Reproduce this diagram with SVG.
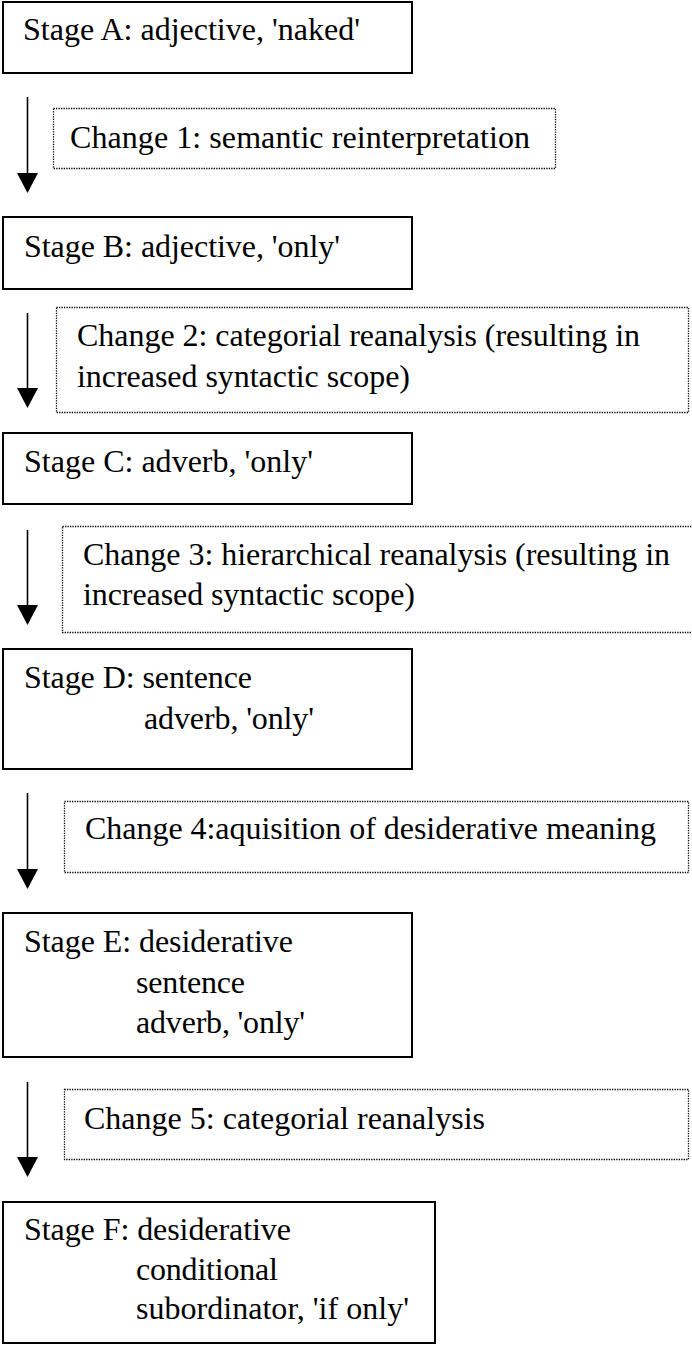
<svg xmlns="http://www.w3.org/2000/svg" width="692" height="1345" viewBox="0 0 692 1345">
<style>
.stage{fill:#fff;stroke:#000;stroke-width:2}
.change{fill:#fff;stroke:#000;stroke-width:1.3;stroke-dasharray:1.3 1.2}
.arrow{stroke:#000;stroke-width:1.6;fill:none}
</style>
<defs>
<marker id="ah" viewBox="0 0 20 21" refX="0" refY="10.5" markerWidth="20" markerHeight="21" markerUnits="userSpaceOnUse" orient="auto">
<path d="M0,0 L20,10.5 L0,21 z" fill="#000"/>
</marker>
</defs>
<rect width="692" height="1345" fill="#fff"/>
<g id="connectors">
<line class="arrow" x1="27.5" y1="97" x2="27.5" y2="173" marker-end="url(#ah)"/>
<line class="arrow" x1="27.5" y1="313" x2="27.5" y2="388" marker-end="url(#ah)"/>
<line class="arrow" x1="27.5" y1="530" x2="27.5" y2="605" marker-end="url(#ah)"/>
<line class="arrow" x1="27.5" y1="793" x2="27.5" y2="869" marker-end="url(#ah)"/>
<line class="arrow" x1="27.5" y1="1082" x2="27.5" y2="1157" marker-end="url(#ah)"/>
</g>
<g font-family="Liberation Serif, serif" font-size="32" fill="#000">
<g id="stageA">
<rect class="stage" x="3" y="2" width="409" height="71"/>
<text x="23" y="40" textLength="337">Stage A: adjective, 'naked'</text>
</g>
<g id="change1">
<rect class="change" x="53.5" y="108.5" width="502" height="60"/>
<text x="70" y="148" textLength="460">Change 1: semantic reinterpretation</text>
</g>
<g id="stageB">
<rect class="stage" x="3" y="217" width="409" height="72"/>
<text x="24" y="257" textLength="316">Stage B: adjective, 'only'</text>
</g>
<g id="change2">
<rect class="change" x="56.5" y="307.5" width="632" height="105"/>
<text x="77" y="346" textLength="563">Change 2: categorial reanalysis (resulting in</text>
<text x="77" y="387" textLength="333">increased syntactic scope)</text>
</g>
<g id="stageC">
<rect class="stage" x="3" y="433" width="409" height="71"/>
<text x="24" y="472" textLength="289">Stage C: adverb, 'only'</text>
</g>
<g id="change3">
<rect class="change" x="62.5" y="526.5" width="640" height="106"/>
<text x="83" y="565" textLength="587">Change 3: hierarchical reanalysis (resulting in</text>
<text x="83" y="605" textLength="332">increased syntactic scope)</text>
</g>
<g id="stageD">
<rect class="stage" x="3" y="649" width="409" height="120"/>
<text x="24" y="688" textLength="228">Stage D: sentence</text>
<text x="144" y="729" textLength="170">adverb, 'only'</text>
</g>
<g id="change4">
<rect class="change" x="64.5" y="801.5" width="624" height="71"/>
<text x="85" y="839" textLength="571">Change 4:aquisition of desiderative meaning</text>
</g>
<g id="stageE">
<rect class="stage" x="3" y="913" width="409" height="144"/>
<text x="24" y="952" textLength="269">Stage E: desiderative</text>
<text x="136" y="993" textLength="109">sentence</text>
<text x="136" y="1033" textLength="169">adverb, 'only'</text>
</g>
<g id="change5">
<rect class="change" x="64.5" y="1089.5" width="624" height="70"/>
<text x="84" y="1129" textLength="401">Change 5: categorial reanalysis</text>
</g>
<g id="stageF">
<rect class="stage" x="3" y="1202" width="432" height="141"/>
<text x="24" y="1240" textLength="267">Stage F: desiderative</text>
<text x="136" y="1280" textLength="142">conditional</text>
<text x="136" y="1319" textLength="273">subordinator, 'if only'</text>
</g>
</g>
</svg>
